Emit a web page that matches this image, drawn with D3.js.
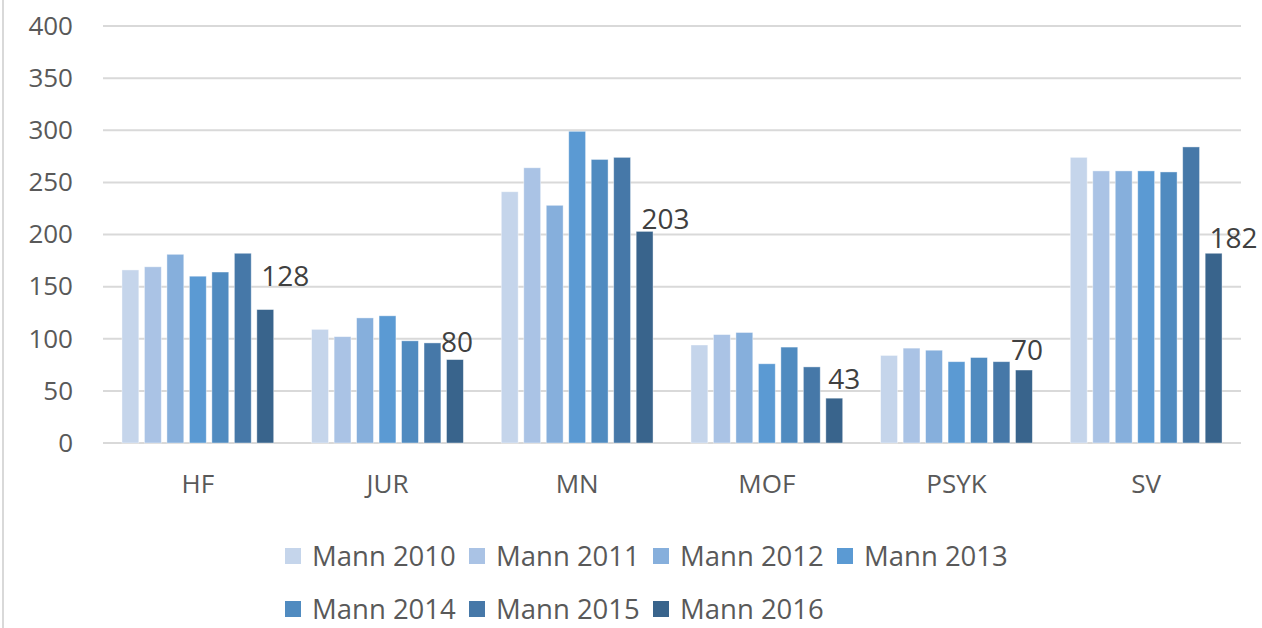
<!DOCTYPE html>
<html>
<head>
<meta charset="utf-8">
<script src="https://cdn.jsdelivr.net/npm/d3@7"></script>
<style>
  html, body { margin: 0; padding: 0; background: #fff; }
  svg { display: block; font-family: "Open Sans", "Liberation Sans", sans-serif; }
</style>
</head>
<body>
<div id="chart"></div>
<script>
// categories (faculties) and one series per year
const categories = ['HF', 'JUR', 'MN', 'MOF', 'PSYK', 'SV'];
const seriesNames = ['Mann 2010', 'Mann 2011', 'Mann 2012', 'Mann 2013', 'Mann 2014', 'Mann 2015', 'Mann 2016'];
const mann2010 = [166, 109, 241, 94, 84, 274];
const mann2011 = [169, 102, 264, 104, 91, 261];
const mann2012 = [181, 120, 228, 106, 89, 261];
const mann2013 = [160, 122, 299, 76, 78, 261];
const mann2014 = [164, 98, 272, 92, 82, 260];
const mann2015 = [182, 96, 274, 73, 78, 284];
const mann2016 = [128, 80, 203, 43, 70, 182];
const yTicks = [0, 50, 100, 150, 200, 250, 300, 350, 400];

const seriesValues = [mann2010, mann2011, mann2012, mann2013, mann2014, mann2015, mann2016];
const colours = ['#c5d5eb', '#aac3e5', '#86afdc', '#5b9ad3', '#508bc0', '#4678a8', '#39648c'];

// labels on the 2016 bars were dragged a bit in the original
const labelNudge = [[20, 24], [2, 8], [21, 2], [10, 9], [3, 10], [20, 5]];

const width = 1262;
const height = 628;
const plot = {left: 103, right: 1241, top: 26, bottom: 443};

const svg = d3.select('#chart')
    .append('svg')
    .attr('width', width)
    .attr('height', height);

// left border of the chart area
svg.append('line')
    .attr('x1', 3).attr('x2', 3)
    .attr('y1', 0).attr('y2', height)
    .attr('stroke', '#d9d9d9')
    .attr('stroke-width', 2);

const yScale = d3.scaleLinear()
    .domain([0, 400])
    .range([plot.bottom, plot.top]);

const x0 = d3.scaleBand()
    .domain(categories)
    .range([plot.left, plot.right])
    .paddingInner(0.2)
    .paddingOuter(0.1);

const x1 = d3.scaleBand()
    .domain(seriesNames)
    .range([0, x0.bandwidth()])
    .paddingInner(0.25);

// gridlines
svg.append('g')
    .selectAll('line')
    .data(yTicks)
    .enter()
    .append('line')
        .attr('x1', plot.left)
        .attr('x2', plot.right)
        .attr('y1', d => yScale(d))
        .attr('y2', d => yScale(d))
        .attr('stroke', '#d9d9d9')
        .attr('stroke-width', 2);

// y axis labels
const yAxis = svg.append('g')
    .attr('transform', `translate(${plot.left}, 0)`)
    .call(d3.axisLeft(yScale).tickValues(yTicks).tickSize(0).tickPadding(30));
yAxis.select('.domain').remove();
yAxis.selectAll('text')
    .attr('fill', '#595959')
    .style('font-size', '26px')
    .style('font-family', '"Open Sans", sans-serif');

// x axis labels
const xAxis = svg.append('g')
    .attr('transform', `translate(0, ${plot.bottom})`)
    .call(d3.axisBottom(x0).tickSize(0).tickPadding(32));
xAxis.select('.domain').remove();
xAxis.selectAll('text')
    .attr('fill', '#595959')
    .style('font-size', '26px')
    .style('font-family', '"Open Sans", sans-serif');

// bars
const groups = svg.append('g')
    .selectAll('g')
    .data(categories)
    .enter()
    .append('g')
        .attr('transform', d => `translate(${x0(d)}, 0)`);

groups.selectAll('rect')
    .data((cat, ci) => seriesNames.map((s, si) => ({series: s, si: si, value: seriesValues[si][ci]})))
    .enter()
    .append('rect')
        .attr('x', d => x1(d.series))
        .attr('y', d => yScale(d.value))
        .attr('width', x1.bandwidth())
        .attr('height', d => plot.bottom - yScale(d.value))
        .attr('fill', d => colours[d.si])
        .attr('stroke', 'rgba(255,255,255,0.5)')
        .attr('stroke-width', 0.8);

// data labels on the last series
const lastName = seriesNames[seriesNames.length - 1];
svg.append('g')
    .selectAll('text')
    .data(categories)
    .enter()
    .append('text')
        .attr('x', (d, i) => x0(d) + x1(lastName) + x1.bandwidth() / 2 + labelNudge[i][0])
        .attr('y', (d, i) => yScale(mann2016[i]) - labelNudge[i][1])
        .attr('text-anchor', 'middle')
        .attr('fill', '#404040')
        .style('font-size', '28px')
        .text((d, i) => mann2016[i]);

// legend, two rows
const legend = svg.append('g');
const items = legend.selectAll('g')
    .data(seriesNames)
    .enter()
    .append('g')
        .attr('transform', (d, i) => `translate(${285 + (i % 4) * 184}, ${556 + Math.floor(i / 4) * 53})`);

items.append('rect')
    .attr('x', 0)
    .attr('y', -8)
    .attr('width', 16)
    .attr('height', 16)
    .attr('fill', (d, i) => colours[i]);

items.append('text')
    .attr('x', 27)
    .attr('y', 0)
    .attr('dy', '0.36em')
    .attr('fill', '#595959')
    .style('font-size', '27.5px')
    .text(d => d);
</script>
</body>
</html>
